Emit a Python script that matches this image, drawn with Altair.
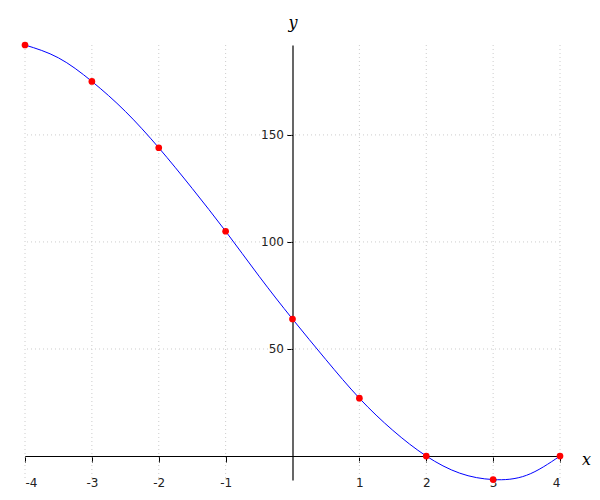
import altair as alt
import pandas as pd

# marked points
x_vals = [-4, -3, -2, -1, 0, 1, 2, 3, 4]
y_vals = [192, 175, 144, 105, 64, 27, 0, -11, 0]
# blue curve (including half-way readings)
curve_x = [-4, -3.5, -3, -2.5, -2, -1.5, -1, -0.5, 0, 0.5, 1, 1.5, 2, 2.5, 3, 3.5, 4]
curve_y = [192, 186, 175, 161, 144, 125, 105, 84, 64, 45, 27, 12, 0, -8, -11, -9, 0]
x_ticks = [-4, -3, -2, -1, 1, 2, 3, 4]
y_ticks = [50, 100, 150]

X_DOMAIN = [-4, 4]
Y_DOMAIN = [-11.2, 192]
W, H = 535, 435

df = pd.DataFrame({"x": x_vals, "y": y_vals})
dc = pd.DataFrame({"x": curve_x, "y": curve_y})
gx = pd.DataFrame({"v": x_ticks})
gy = pd.DataFrame({"v": y_ticks})

# pixel offsets so axes cross at (0, 0)
x_axis_off = -(H * (0 - Y_DOMAIN[0]) / (Y_DOMAIN[1] - Y_DOMAIN[0]))
y_axis_off = -(W * (0 - X_DOMAIN[0]) / (X_DOMAIN[1] - X_DOMAIN[0]))

xs = alt.Scale(domain=X_DOMAIN, nice=False, zero=False)
ys = alt.Scale(domain=Y_DOMAIN, nice=False, zero=False)

x_axis = alt.Axis(
    values=x_ticks,
    offset=x_axis_off,
    grid=False,
    domainColor="black",
    domainWidth=1.2,
    tickColor="black",
    tickSize=6,
    labelFont="DejaVu Sans",
    labelFontSize=12,
    labelColor="#222222",
    labelPadding=15,
    labelExpr="toString(datum.value)",
    title="x",
    titleFont="DejaVu Serif",
    titleFontStyle="italic",
    titleFontWeight="normal",
    titleFontSize=16,
    titleColor="black",
    titleX=W + 26,
    titleY=3,
    titleAlign="center",
    titleBaseline="middle",
)
y_axis = alt.Axis(
    values=y_ticks,
    offset=y_axis_off,
    grid=False,
    domainColor="black",
    domainWidth=1.2,
    tickColor="black",
    tickSize=6,
    labelFont="DejaVu Sans",
    labelFontSize=12,
    labelColor="#222222",
    labelPadding=3,
    labelExpr="toString(datum.value)",
    title="y",
    titleFont="DejaVu Serif",
    titleFontStyle="italic",
    titleFontWeight="normal",
    titleFontSize=16,
    titleColor="black",
    titleAngle=0,
    titleX=0,
    titleY=-23,
    titleAlign="center",
    titleBaseline="middle",
)

grid_style = dict(color="#cccccc", strokeWidth=1, strokeDash=[1, 3])

vgrid = alt.Chart(gx).mark_rule(**grid_style).encode(
    x=alt.X("v:Q", scale=xs, axis=x_axis)
)
hgrid = alt.Chart(gy).mark_rule(**grid_style).encode(
    y=alt.Y("v:Q", scale=ys, axis=y_axis)
)

line = alt.Chart(dc).mark_line(color="#0000ff", strokeWidth=1, interpolate="natural").encode(
    x=alt.X("x:Q", scale=xs, axis=x_axis),
    y=alt.Y("y:Q", scale=ys, axis=y_axis),
)

points = alt.Chart(df).mark_circle(color="#ff0000", opacity=1, size=45).encode(
    x=alt.X("x:Q", scale=xs, axis=x_axis),
    y=alt.Y("y:Q", scale=ys, axis=y_axis),
)

chart = (
    alt.layer(vgrid, hgrid, line, points)
    .properties(
        width=W,
        height=H,
        autosize=alt.AutoSizeParams(type="none"),
        padding={"left": 17, "top": 37, "right": 32, "bottom": 10},
    )
    .configure(background="white")
    .configure_view(strokeWidth=0, stroke="transparent")
)

chart.save("out.html", embed_options={"renderer": "svg", "actions": False})
